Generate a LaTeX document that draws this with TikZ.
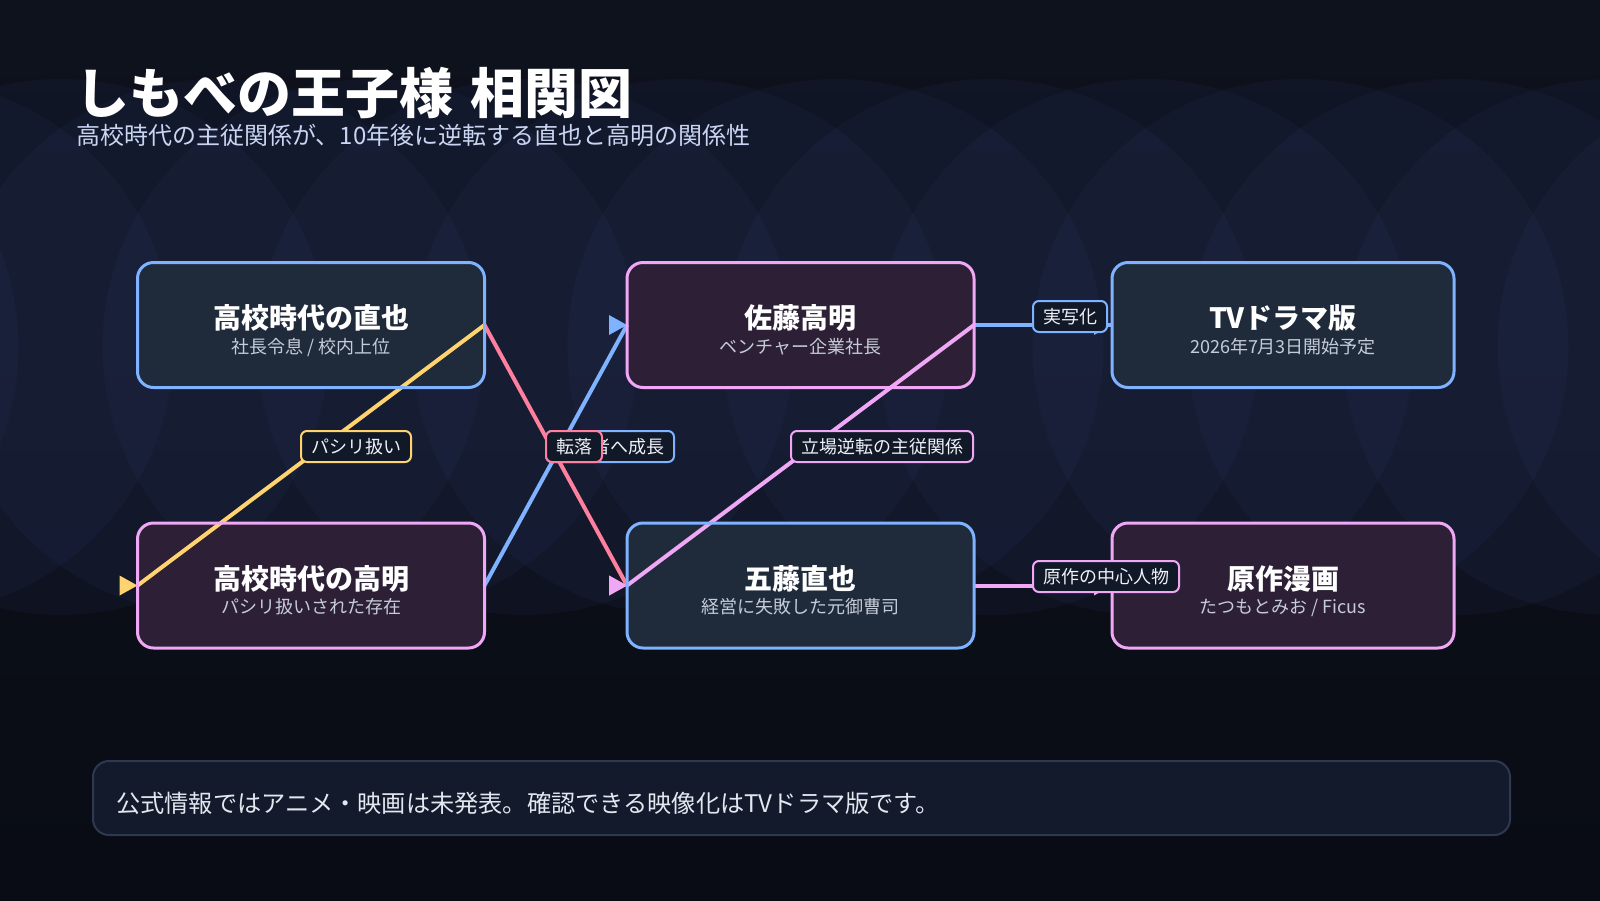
\documentclass[tikz,border=0pt]{standalone}
\usepackage{fontspec}
\setmainfont{Noto Sans CJK JP}
\usetikzlibrary{calc}
\definecolor{bgtop}{HTML}{0E121D}
\definecolor{bgbot}{HTML}{090C14}
\definecolor{circ}{HTML}{34427A}
\definecolor{cblue}{HTML}{7FB2FF}
\definecolor{cpink}{HTML}{F0A8F6}
\definecolor{cred}{HTML}{FF7F9E}
\definecolor{cyel}{HTML}{FFD36E}
\definecolor{fblue}{HTML}{1F2A3B}
\definecolor{fpink}{HTML}{2D2036}
\definecolor{lblfill}{HTML}{111827}
\definecolor{lbltext}{HTML}{EEF1F7}
\definecolor{subgray}{HTML}{C5CCD8}
\definecolor{subtitlec}{HTML}{C9D5F2}
\definecolor{notefill}{HTML}{121A2B}
\definecolor{noteline}{HTML}{2E394F}
\definecolor{notetext}{HTML}{E3E8F0}
\tikzset{
  boxfill/.style={minimum width=347pt, minimum height=125pt, inner sep=0pt, outer sep=0pt, rounded corners=16pt},
  boxline/.style={line width=3pt, rounded corners=16pt},
  ttl/.style={anchor=base, inner sep=0pt, text=white, font=\fontsize{28}{32}\selectfont\bfseries},
  sub/.style={anchor=base, inner sep=0pt, text=subgray, font=\fontsize{18}{20}\selectfont},
  edge/.style={line width=4pt},
  lbl/.style={draw, line width=2pt, fill=lblfill, rounded corners=6pt, inner xsep=10pt, inner ysep=0pt,
    minimum height=31pt, anchor=west, outer sep=0pt, text=lbltext, font=\fontsize{18}{20}\selectfont},
}
\newcommand{\arrowtip}[2]{\fill[#1] ($(#2)+(-18,-10)$) -- (#2) -- ($(#2)+(-18,10)$) -- cycle;}
\begin{document}
\begin{tikzpicture}[x=1pt,y=-1pt]
\useasboundingbox (0,0) rectangle (1600,900);
\shade[top color=bgtop, bottom color=bgbot] (0,0) rectangle (1600,900);
\foreach \k in {-3,...,10} {
  \fill[circ, fill opacity=0.1] ({215.5+155*\k},347) circle[radius=268pt];
}
% title
\node[anchor=base west, inner sep=0pt, text=white, font=\fontsize{54}{62}\selectfont\bfseries] (title) at (75,113) {しもべの王子様\hspace{0.1em} 相関図};
\node[anchor=base west, inner sep=0pt, text=subtitlec, font=\fontsize{24}{28}\selectfont] (subt) at (76,144) {高校時代の主従関係が、10年後に逆転する直也と高明の関係性};
% boxes (fills)
\node[boxfill, fill=fblue] (n1) at (311,325) {};
\node[boxfill, fill=fpink] (n2) at (311,585.5) {};
\node[boxfill, fill=fpink] (n3) at (800.5,325) {};
\node[boxfill, fill=fblue] (n4) at (800.5,585.5) {};
\node[boxfill, fill=fblue, minimum width=342pt] (n5) at (1283,325) {};
\node[boxfill, fill=fpink, minimum width=342pt] (n6) at (1283,585.5) {};
% texts
\node[ttl] (t1) at (311,328.6) {高校時代の直也};
\node[sub] (s1) at (311,353.3) {社長令息 / 校内上位};
\node[ttl] (t2) at (311,589.1) {高校時代の高明};
\node[sub] (s2) at (311,613.8) {パシリ扱いされた存在};
\node[ttl] (t3) at (800.5,328.6) {佐藤高明};
\node[sub] (s3) at (800.5,353.3) {ベンチャー企業社長};
\node[ttl] (t4) at (800.5,589.1) {五藤直也};
\node[sub] (s4) at (800.5,613.8) {経営に失敗した元御曹司};
\node[ttl] (t5) at (1283,328.6) {TVドラマ版};
\node[sub] (s5) at (1283,353.3) {2026年7月3日開始予定};
\node[ttl] (t6) at (1283,589.1) {原作漫画};
\node[sub] (s6) at (1283,613.8) {たつもとみお / Ficus};
% edges
\draw[edge, cyel] (n1.east) -- (n2.west);
\arrowtip{cyel}{n2.west}
\draw[edge, cred] (n1.east) -- (n4.west);
\arrowtip{cred}{n4.west}
\draw[edge, cblue] (n2.east) -- (n3.west);
\arrowtip{cblue}{n3.west}
\draw[edge, cpink] (n3.east) -- (n4.west);
\arrowtip{cpink}{n4.west}
\draw[edge, cblue] (n3.east) -- (n5.west);
\arrowtip{cblue}{n5.west}
\draw[edge, cpink] (n4.east) -- (n6.west);
\arrowtip{cpink}{n6.west}
% borders
\draw[boxline, cblue] (n1.north west) rectangle (n1.south east);
\draw[boxline, cpink] (n2.north west) rectangle (n2.south east);
\draw[boxline, cpink] (n3.north west) rectangle (n3.south east);
\draw[boxline, cblue] (n4.north west) rectangle (n4.south east);
\draw[boxline, cblue] (n5.north west) rectangle (n5.south east);
\draw[boxline, cpink] (n6.north west) rectangle (n6.south east);
% labels
\node[lbl, draw=cyel] (l1) at (301,446.5) {パシリ扱い};
\node[lbl, draw=cblue] (l3) at (546,446.5) {経営者へ成長};
\node[lbl, draw=cred] (l2) at (546,446.5) {転落};
\node[lbl, draw=cpink] (l4) at (791,446.5) {立場逆転の主従関係};
\node[lbl, draw=cblue] (l5) at (1033,316.5) {実写化};
\node[lbl, draw=cpink] (l6) at (1033,576.5) {原作の中心人物};
% note
\draw[line width=2pt, draw=noteline, fill=notefill, rounded corners=16pt] (93,761) rectangle (1510,835);
\node[anchor=base west, inner sep=0pt, text=notetext, font=\fontsize{24.2}{28}\selectfont] (note) at (116,812) {公式情報ではアニメ・映画は未発表。確認できる映像化はTVドラマ版です。};
\end{tikzpicture}
\end{document}
